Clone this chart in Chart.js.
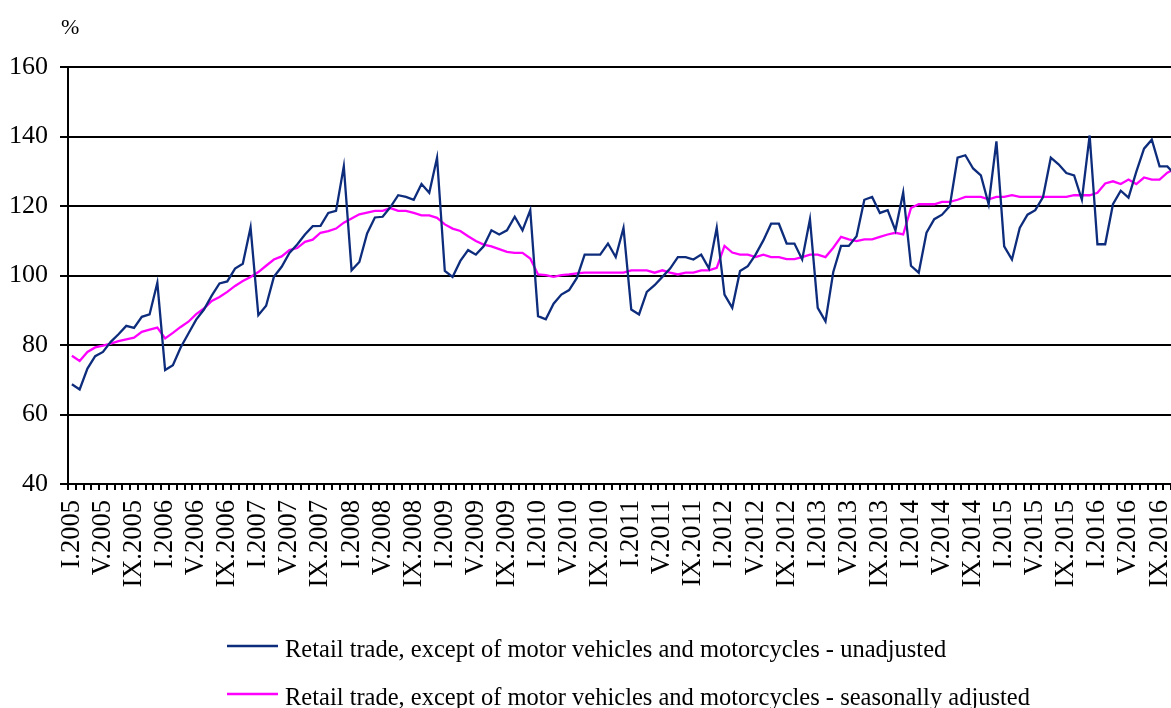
<!DOCTYPE html>
<html>
<head>
<meta charset="utf-8">
<title>Retail trade index</title>
<script src="https://cdn.jsdelivr.net/npm/chart.js@4.4.1/dist/chart.umd.min.js"></script>
<style>
  html, body { margin: 0; padding: 0; background: #fff; overflow: hidden; }
  /* the original picture is cut off a few pixels into the last month */
  #wrap { width: 1171px; height: 708px; overflow: hidden; }
</style>
</head>
<body>
<div id="wrap"><canvas id="chart" width="1179" height="708"></canvas></div>
<script>
// categories
var years = [2005, 2006, 2007, 2008, 2009, 2010, 2011, 2012, 2013, 2014, 2015, 2016];
var romanMonths = ['I', 'II', 'III', 'IV', 'V', 'VI', 'VII', 'VIII', 'IX', 'X', 'XI', 'XII'];
var labelledMonths = ['I', 'V', 'IX'];

// y axis
var yTicks = [40, 60, 80, 100, 120, 140, 160];

// series (I.2005 - XI.2016)
var unadjusted = [
  68.7, 67.2, 73.2, 76.8, 78.0, 80.9, 83.1, 85.5, 84.9, 88.1, 88.8, 97.9,
  72.8, 74.2, 79.3, 83.3, 87.3, 90.2, 94.2, 97.7, 98.3, 102.0, 103.4, 113.8,
  88.6, 91.3, 99.6, 102.5, 106.5, 108.9, 111.8, 114.2, 114.3, 118.0, 118.6, 131.4,
  101.5, 103.9, 112.1, 116.7, 116.9, 119.7, 123.1, 122.6, 121.8, 126.3, 123.8, 133.9,
  101.3, 99.6, 104.2, 107.3, 106.0, 108.4, 113.0, 111.8, 113.0, 116.9, 113.0, 118.8,
  88.3, 87.4, 91.9, 94.5, 95.8, 99.3, 106.0, 106.0, 106.0, 109.2, 105.3, 113.7,
  90.2, 88.8, 95.3, 97.2, 99.6, 102.0, 105.3, 105.3, 104.6, 106.0, 102.0, 113.7,
  94.5, 90.7, 101.3, 102.7, 106.0, 110.1, 114.9, 114.9, 109.2, 109.2, 104.6, 116.2,
  90.7, 86.8, 101.0, 108.5, 108.5, 111.3, 121.8, 122.6, 118.0, 118.8, 113.0, 123.9,
  102.8, 100.8, 112.3, 116.2, 117.5, 120.0, 133.9, 134.6, 130.8, 128.8, 120.5, 138.6,
  108.4, 104.6, 113.7, 117.5, 118.8, 122.6, 133.9, 132.0, 129.5, 128.8, 121.8, 140.3,
  109.0, 109.0, 120.5, 124.4, 122.4, 129.8, 136.5, 139.1, 131.4, 131.4, 129.0
];
var seasonallyAdjusted = [
  76.9, 75.4, 78.0, 79.3, 79.8, 80.4, 81.1, 81.6, 82.1, 83.8, 84.4, 85.0,
  81.9, 83.5, 85.2, 86.7, 88.9, 90.5, 92.7, 93.8, 95.3, 97.0, 98.4, 99.6,
  101.0, 102.8, 104.6, 105.5, 107.3, 107.9, 109.7, 110.3, 112.3, 112.8, 113.5, 115.2,
  116.4, 117.6, 118.1, 118.6, 118.6, 119.4, 118.6, 118.6, 118.0, 117.3, 117.3, 116.6,
  114.7, 113.5, 112.8, 111.3, 109.9, 108.9, 108.4, 107.6, 106.8, 106.5, 106.5, 104.9,
  100.3, 100.1, 99.6, 100.1, 100.3, 100.6, 100.8, 100.8, 100.8, 100.8, 100.8, 100.8,
  101.5, 101.5, 101.5, 100.8, 101.5, 100.8, 100.3, 100.8, 100.8, 101.5, 101.5, 102.2,
  108.5, 106.6, 106.0, 106.0, 105.3, 106.0, 105.3, 105.3, 104.7, 104.7, 105.3, 106.0,
  106.0, 105.3, 108.0, 111.1, 110.4, 109.9, 110.4, 110.4, 111.1, 111.8, 112.3, 111.8,
  119.4, 120.5, 120.5, 120.5, 121.2, 121.2, 121.8, 122.6, 122.6, 122.6, 121.9, 122.6,
  122.6, 123.1, 122.6, 122.6, 122.6, 122.6, 122.6, 122.6, 122.6, 123.1, 123.1, 123.1,
  123.8, 126.5, 127.1, 126.3, 127.6, 126.3, 128.2, 127.6, 127.6, 129.6, 130.7
];

var seriesNames = [
  'Retail trade, except of motor vehicles and motorcycles - unadjusted',
  'Retail trade, except of motor vehicles and motorcycles - seasonally adjusted'
];

var months = [];
years.forEach(function (y) {
  romanMonths.forEach(function (m) {
    if (months.length < unadjusted.length) months.push(m + '.' + y);
  });
});

var serif = '"Liberation Serif", "Times New Roman", serif';

// legend on two left-aligned rows + the "%" unit over the y axis
var legendAndUnit = {
  id: 'legendAndUnit',
  afterDraw: function (chart) {
    var ctx = chart.ctx;
    ctx.save();
    ctx.fillStyle = '#000';
    ctx.textBaseline = 'alphabetic';
    ctx.font = '22px ' + serif;
    ctx.fillText('%', 61, 34);
    ctx.font = '24.5px ' + serif;
    chart.data.datasets.forEach(function (ds, i) {
      var y = 646 + i * 48;
      ctx.strokeStyle = ds.borderColor;
      ctx.lineWidth = 2.5;
      ctx.beginPath();
      ctx.moveTo(227, y);
      ctx.lineTo(278, y);
      ctx.stroke();
      ctx.fillText(ds.label, 285, y + 10.5);
    });
    ctx.restore();
  }
};

new Chart(document.getElementById('chart'), {
  type: 'line',
  data: {
    labels: months,
    datasets: [{
      label: seriesNames[0],
      data: unadjusted,
      borderColor: '#0d2c7c',
      borderWidth: 2.3,
      pointRadius: 0,
      tension: 0
    }, {
      label: seriesNames[1],
      data: seasonallyAdjusted,
      borderColor: '#ff00ff',
      borderWidth: 2.3,
      pointRadius: 0,
      tension: 0
    }]
  },
  options: {
    responsive: false,
    devicePixelRatio: 1,
    animation: false,
    layout: { padding: { left: 0, top: 67, right: 0, bottom: 108 } },
    plugins: {
      legend: { display: false },
      tooltip: { enabled: false }
    },
    scales: {
      x: {
        offset: true,
        afterFit: function (scale) {
          scale.height = 116;
          scale.paddingLeft = 0;
          scale.paddingRight = 0;
        },
        grid: {
          offset: true,
          drawOnChartArea: false,
          drawTicks: true,
          tickLength: 6,
          lineWidth: 2,
          color: '#000'
        },
        border: { display: true, color: '#000', width: 2 },
        ticks: {
          autoSkip: false,
          maxRotation: 90,
          minRotation: 90,
          padding: 10,
          color: '#000',
          font: { family: serif, size: 26.5 },
          callback: function (value, index) {
            var lab = months[index];
            return labelledMonths.indexOf(lab.split('.')[0]) >= 0 ? lab : '';
          }
        }
      },
      y: {
        min: yTicks[0],
        max: yTicks[yTicks.length - 1],
        afterFit: function (scale) { scale.width = 68; },
        grid: {
          color: '#000',
          lineWidth: 2,
          drawTicks: true,
          tickLength: 8
        },
        border: { display: true, color: '#000', width: 2 },
        ticks: {
          stepSize: yTicks[1] - yTicks[0],
          padding: 12,
          color: '#000',
          font: { family: serif, size: 26 }
        }
      }
    }
  },
  plugins: [legendAndUnit]
});
</script>
</body>
</html>
